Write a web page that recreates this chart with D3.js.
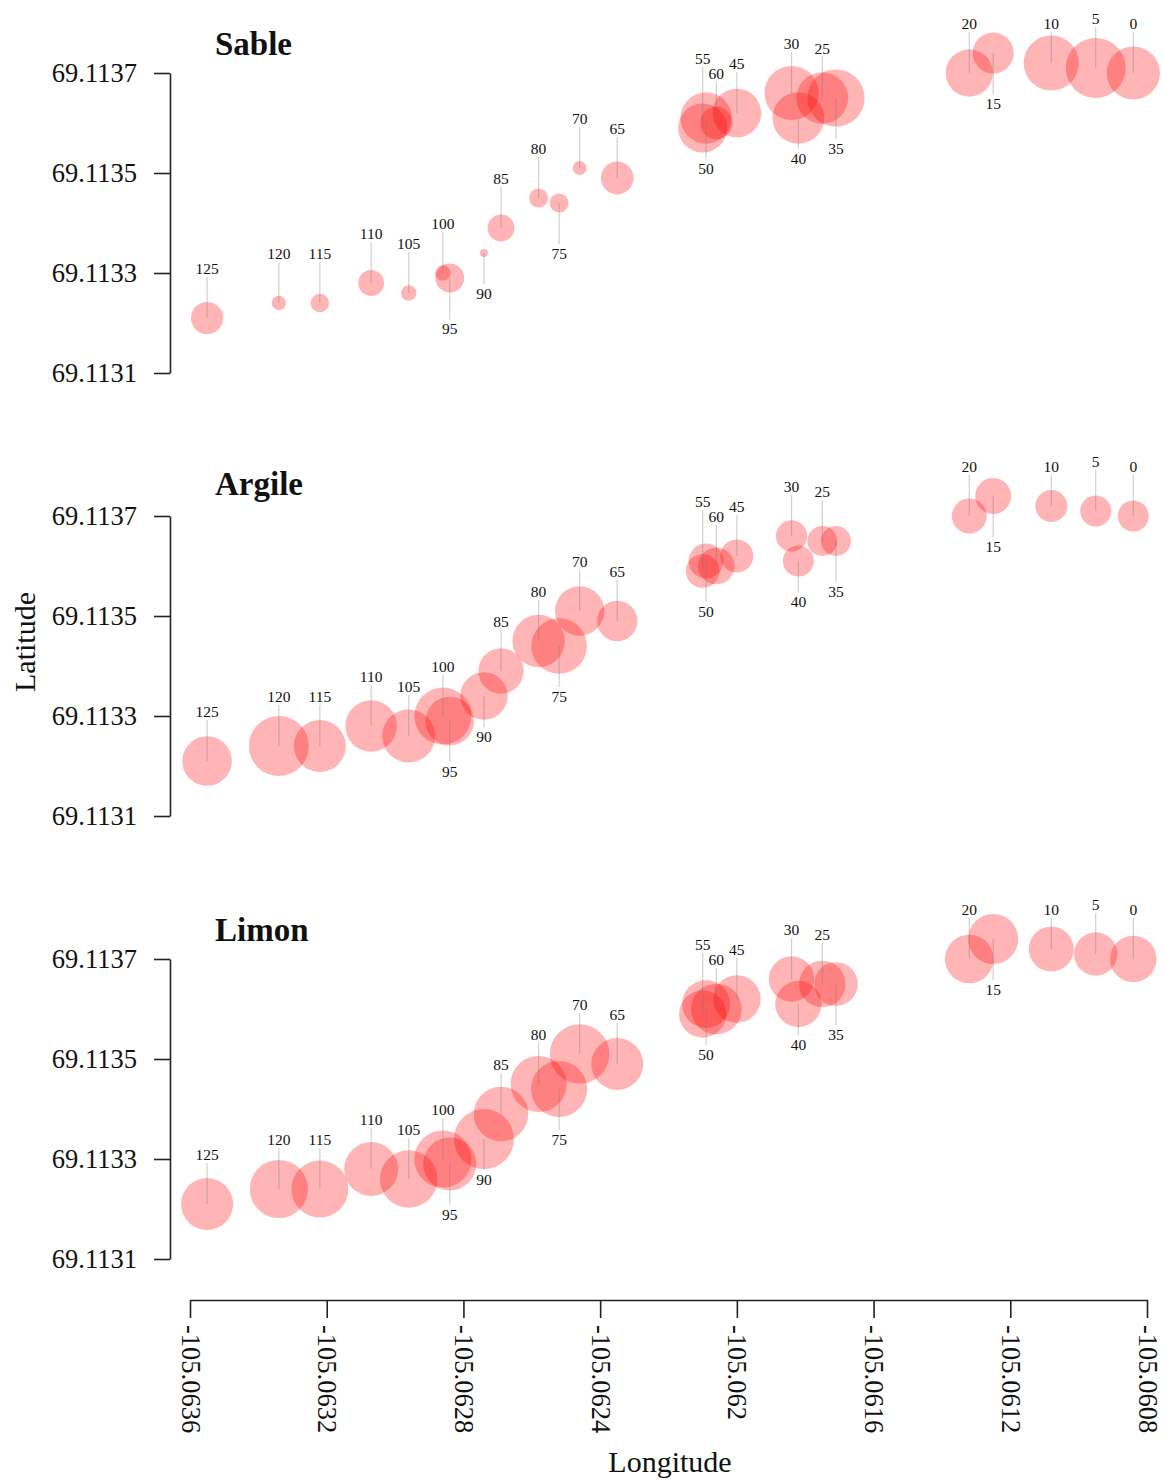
<!DOCTYPE html>
<html>
<head>
<meta charset="utf-8">
<script src="https://cdn.jsdelivr.net/npm/d3@7"></script>
<style>
  html, body { margin: 0; padding: 0; background: #fff; }
  svg { display: block; }
  text { font-family: "Liberation Serif", "DejaVu Serif", serif; fill: #111; }
</style>
</head>
<body>
<svg id="chart" width="1163" height="1480"></svg>
<script>
// Sampling stations along the transect (distance labels)
const stations = [0, 5, 10, 15, 20, 25, 30, 35, 40, 45, 50, 55, 60, 65, 70, 75, 80, 85, 90, 95, 100, 105, 110, 115, 120, 125];

// Station coordinates
const lon = [-105.06084, -105.06095, -105.06108, -105.06125, -105.06132, -105.06175, -105.06184, -105.06171, -105.06182, -105.06200,
             -105.06209, -105.06210, -105.06206, -105.06235, -105.06246, -105.06252, -105.06258, -105.06269, -105.06274, -105.06284,
             -105.06286, -105.06296, -105.06307, -105.06322, -105.06334, -105.06355];
const lat = [69.11370, 69.11371, 69.11372, 69.11374, 69.11370, 69.11365, 69.11366, 69.11365, 69.11361, 69.11362,
             69.11361, 69.11359, 69.11360, 69.11349, 69.11351, 69.11344, 69.11345, 69.11339, 69.11334, 69.11329,
             69.11330, 69.11326, 69.11328, 69.11324, 69.11324, 69.11321];

// Latitude at which each station label is written
const labelLat = [69.11380, 69.11381, 69.11380, 69.11364, 69.11380, 69.11375, 69.11376, 69.11355, 69.11353, 69.11372,
                  69.11351, 69.11373, 69.11370, 69.11359, 69.11361, 69.11334, 69.11355, 69.11349, 69.11326, 69.11319,
                  69.11340, 69.11336, 69.11338, 69.11334, 69.11334, 69.11331];

// Texture fractions (relative amounts) at each station
const sable  = [26.8, 30.2, 27.8, 20.7, 23.8, 26.0, 27.3, 28.8, 26.0, 24.5, 25.8, 24.7, 16.3, 16.5, 7.0, 9.5, 9.5, 13.5, 4.0, 14.5, 7.8, 7.8, 13.0, 9.3, 7.2, 16.2];
const argile = [15.5, 15.5, 16.0, 18.0, 17.5, 15.0, 15.7, 15.0, 15.5, 16.5, 17.5, 16.8, 18.3, 20.2, 24.7, 27.8, 26.2, 22.7, 23.8, 24.3, 28.5, 26.5, 25.8, 26.0, 30.0, 24.8];
const limon  = [23.0, 21.5, 22.3, 24.8, 24.1, 23.0, 22.5, 21.6, 22.9, 23.6, 23.7, 23.4, 25.1, 25.7, 29.5, 27.8, 27.8, 27.0, 29.7, 26.3, 28.3, 28.5, 26.7, 28.2, 28.8, 25.8];

const panelNames = ["Sable", "Argile", "Limon"];
const panelValues = [sable, argile, limon];

// Axis ticks
const latTicks = [69.1131, 69.1133, 69.1135, 69.1137];
const lonTicks = [-105.0636, -105.0632, -105.0628, -105.0624, -105.062, -105.0616, -105.0612, -105.0608];

const latDomain = [69.1131, 69.1137];
const lonDomain = [-105.0636, -105.0608];

// ---- layout ----
const axisX = 170;        // x of the latitude axis line
const panelTop = [73, 516, 959];
const titleY = [55, 495, 941];
const panelH = 300;
const xAxisY = 1300;
const RMAX = 30;

const svg = d3.select("#chart");
svg.append("rect").attr("width", 1163).attr("height", 1480).attr("fill", "#fff");

const x = d3.scaleLinear().domain(lonDomain).range([190, 1147]);
const fmt = v => String(+v.toFixed(4));

const data = stations.map((s, i) => ({ s, lon: lon[i], lat: lat[i], labLat: labelLat[i] }));

panelNames.forEach((name, p) => {
  const top = panelTop[p];
  const y = d3.scaleLinear().domain(latDomain).range([top + panelH, top]);
  const vals = panelValues[p];
  const r = d3.scaleLinear().domain([0, d3.max(vals)]).range([0, RMAX]);

  const g = svg.append("g");

  // latitude axis
  const ax = g.append("g")
    .attr("transform", `translate(${axisX},0)`)
    .call(d3.axisLeft(y).tickValues(latTicks).tickFormat(fmt).tickSize(16).tickSizeOuter(0).tickPadding(17));
  ax.select(".domain").attr("stroke", "#222").attr("stroke-width", 1.6);
  ax.selectAll(".tick line").attr("stroke", "#222").attr("stroke-width", 1.6);
  ax.selectAll(".tick text")
    .attr("font-family", "Liberation Serif, DejaVu Serif, serif")
    .attr("font-size", 26.5).attr("fill", "#111");

  // panel title
  g.append("text")
    .attr("x", 215).attr("y", titleY[p])
    .attr("font-size", 33).attr("font-weight", "bold")
    .text(name);

  // bubbles
  g.append("g").selectAll("circle")
    .data(data)
    .join("circle")
    .attr("cx", d => x(d.lon))
    .attr("cy", d => y(d.lat))
    .attr("r", (d, i) => r(vals[i]))
    .attr("fill", "rgba(255,0,0,0.29)");

  // leader lines from each station to its label
  const gap = 9;
  g.append("g").selectAll("line")
    .data(data)
    .join("line")
    .attr("x1", d => x(d.lon))
    .attr("x2", d => x(d.lon))
    .attr("y1", d => y(d.lat))
    .attr("y2", d => {
      const ly = y(d.labLat);
      return ly < y(d.lat) ? ly + gap : ly - gap;
    })
    .attr("stroke", "rgba(120,120,120,0.35)")
    .attr("stroke-width", 1.2);

  // station labels
  g.append("g").selectAll("text")
    .data(data)
    .join("text")
    .attr("x", d => x(d.lon))
    .attr("y", d => y(d.labLat))
    .attr("text-anchor", "middle")
    .attr("dominant-baseline", "central")
    .attr("font-size", 15.5)
    .attr("fill", "#222")
    .text(d => d.s);
});

// longitude axis
const xa = svg.append("g")
  .attr("transform", `translate(0,${xAxisY})`)
  .call(d3.axisBottom(x).tickValues(lonTicks).tickFormat(fmt).tickSize(18).tickSizeOuter(0).tickPadding(0));
xa.select(".domain").attr("stroke", "#222").attr("stroke-width", 1.6);
xa.selectAll(".tick line").attr("stroke", "#222").attr("stroke-width", 1.6);
xa.selectAll(".tick text")
  .attr("font-family", "Liberation Serif, DejaVu Serif, serif")
  .attr("font-size", 26.5).attr("fill", "#111")
  .attr("y", 0).attr("dy", null)
  .attr("text-anchor", "start")
  .attr("dominant-baseline", "central")
  .attr("transform", "translate(0,25) rotate(90)");

// axis titles
svg.append("text")
  .attr("x", 670).attr("y", 1472)
  .attr("text-anchor", "middle")
  .attr("font-size", 30)
  .text("Longitude");

svg.append("text")
  .attr("transform", "translate(35,642) rotate(-90)")
  .attr("text-anchor", "middle")
  .attr("font-size", 30)
  .text("Latitude");
</script>
</body>
</html>
